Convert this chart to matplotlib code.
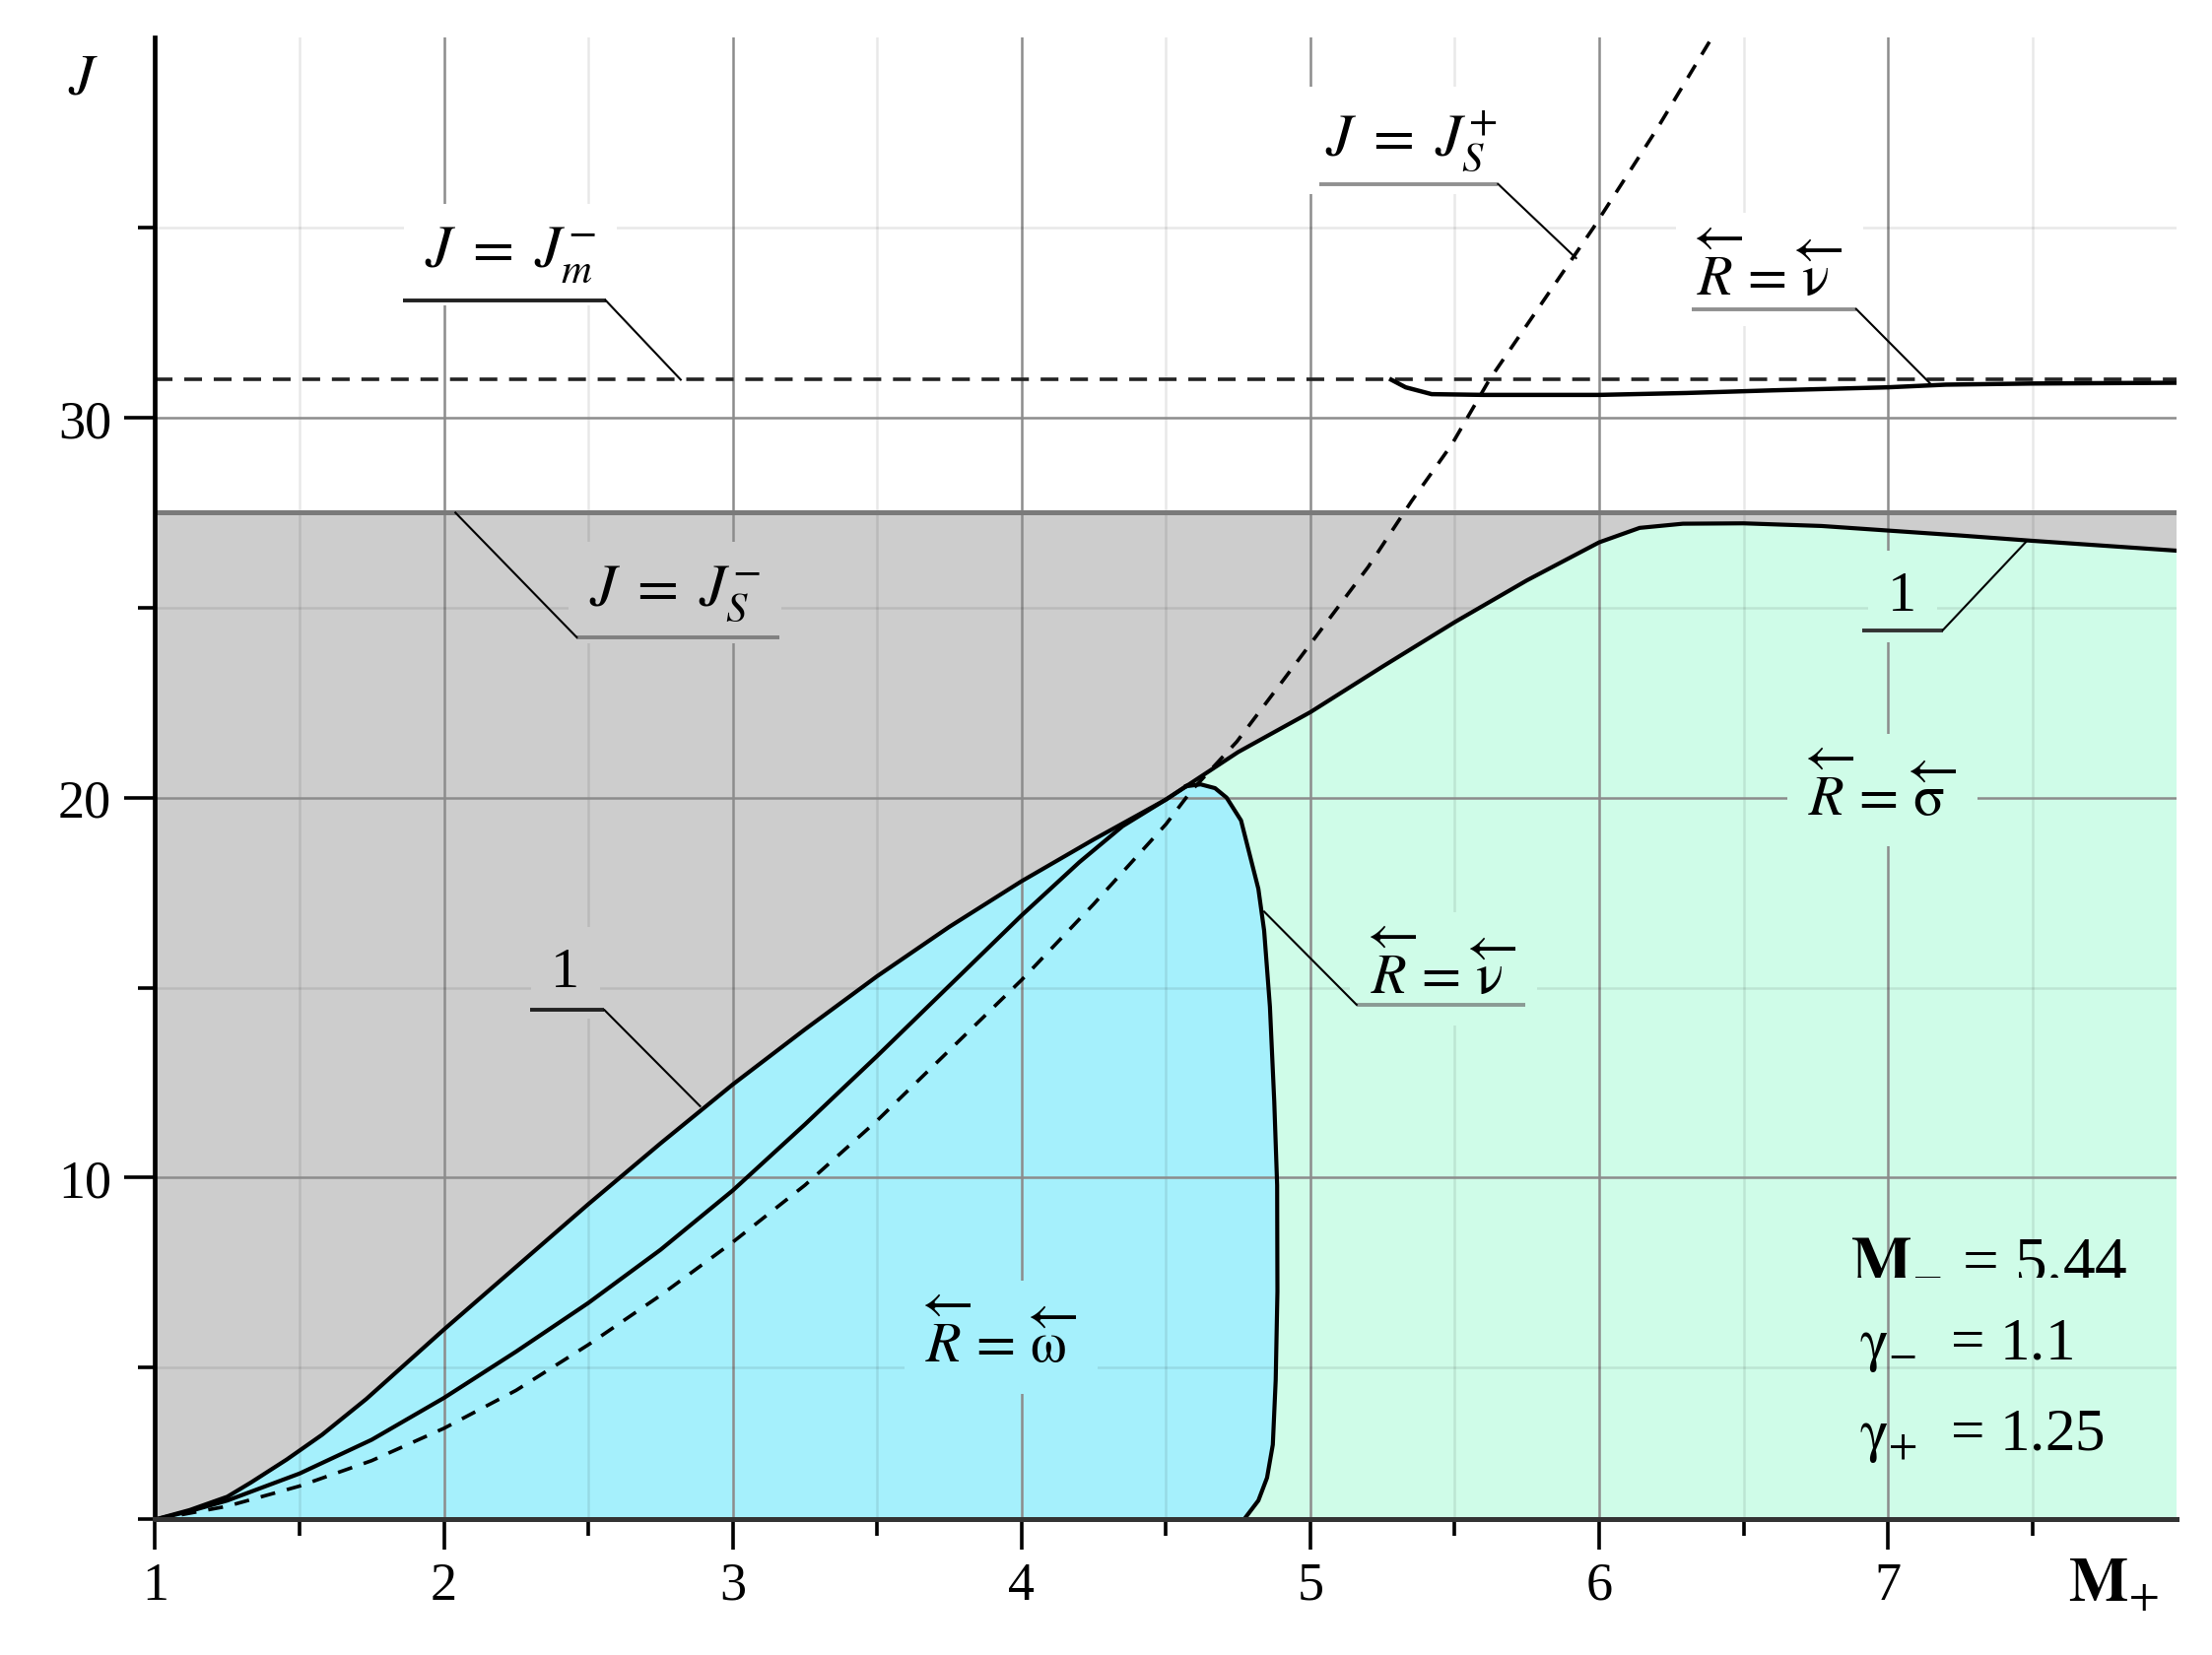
import matplotlib
matplotlib.use('Agg')
import matplotlib.pyplot as plt
from matplotlib.ticker import FixedLocator, NullFormatter

plt.rcParams['font.family'] = ['Liberation Serif', 'DejaVu Serif']
plt.rcParams['mathtext.fontset'] = 'stix'

# кривая 1 (граница серой области), до тройной точки и после неё
m_line1_left = [1.0, 1.12, 1.25, 1.333, 1.456, 1.578, 1.731, 2.0, 2.25, 2.5, 2.75, 3.0, 3.25, 3.5, 3.75, 4.0, 4.25, 4.5, 4.57]
j_line1_left = [1.0, 1.25, 1.6, 1.98, 2.58, 3.23, 4.17, 6.0, 7.65, 9.3, 10.9, 12.45, 13.9, 15.3, 16.6, 17.8, 18.9, 19.95, 20.3]
m_line1_right = [4.57, 4.75, 5.0, 5.25, 5.5, 5.75, 6.0, 6.14, 6.29, 6.5, 6.77, 7.0, 7.25, 7.5, 7.75, 8.0]
j_line1_right = [20.3, 21.2, 22.25, 23.45, 24.62, 25.72, 26.72, 27.1, 27.21, 27.22, 27.15, 27.03, 26.9, 26.76, 26.63, 26.5]

# сплошная кривая внутри голубой области
m_mid = [1.0, 1.12, 1.25, 1.5, 1.75, 2.0, 2.25, 2.5, 2.75, 3.0, 3.25, 3.5, 3.75, 4.0, 4.2, 4.35, 4.5, 4.57]
j_mid = [1.0, 1.22, 1.5, 2.21, 3.1, 4.2, 5.42, 6.7, 8.1, 9.66, 11.4, 13.2, 15.05, 16.9, 18.3, 19.25, 19.95, 20.3]

# J = J_S^+ (штриховая)
m_js_plus = [1.0, 1.25, 1.5, 1.75, 2.0, 2.25, 2.5, 2.75, 3.0, 3.25, 3.5, 3.75, 4.0, 4.25, 4.5, 4.59,
             4.745, 4.9, 5.05, 5.2, 5.35, 5.49, 5.62, 5.8, 5.98, 6.2, 6.39]
j_js_plus = [1.0, 1.35, 1.88, 2.55, 3.4, 4.4, 5.6, 6.9, 8.3, 9.8, 11.5, 13.35, 15.2, 17.2, 19.3, 20.2,
             21.47, 23.03, 24.55, 26.07, 27.8, 29.3, 31.0, 33.0, 35.0, 37.6, 40.0]

# R = nu : граница голубой области
m_nu_low = [4.57, 4.62, 4.67, 4.71, 4.76, 4.79, 4.82, 4.84, 4.86, 4.875, 4.885, 4.886, 4.88, 4.87, 4.85, 4.82, 4.77]
j_nu_low = [20.3, 20.35, 20.25, 20.0, 19.4, 18.5, 17.6, 16.5, 14.5, 12.0, 9.8, 7.0, 4.67, 2.97, 2.1, 1.5, 1.0]

# R = nu : верхняя кривая около J_m^-
m_nu_up = [5.28, 5.33, 5.42, 5.6, 6.0, 6.3, 6.6, 7.0, 7.2, 7.5, 8.0]
j_nu_up = [31.0, 30.8, 30.62, 30.6, 30.6, 30.65, 30.72, 30.8, 30.87, 30.9, 30.92]

J_S_MINUS = 27.5
J_M_MINUS = 31.0

x_major = [1, 2, 3, 4, 5, 6, 7]
x_minor = [1.5, 2.5, 3.5, 4.5, 5.5, 6.5, 7.5]
y_major = [10, 20, 30]
y_minor = [1, 5, 15, 25, 35]

params = [r'$\mathbf{M}_{-}$ = 5.44', r'$\mathrm{\gamma}_{-}$  = 1.1', r'$\mathrm{\gamma}_{+}$  = 1.25']

GREY = '#cdcdcd'
CYAN = '#a5f0fc'
MINT = '#cffce8'

fig = plt.figure(figsize=(22.45, 16.81), dpi=100)
ax = fig.add_axes([0.0701, 0.0818, 0.9140, 0.8948])
ax.set_xlim(1, 8)
ax.set_ylim(1, 40)

# области
ax.fill_between([1, 8], 1, J_S_MINUS, color=GREY, lw=0, zorder=0.2)
cyan_x = m_line1_left + m_nu_low + [1.0]
cyan_y = j_line1_left + j_nu_low + [1.0]
ax.fill(cyan_x, cyan_y, color=CYAN, lw=0, zorder=0.3)
mint_x = m_line1_right + [8.0] + m_nu_low[::-1]
mint_y = j_line1_right + [1.0] + j_nu_low[::-1]
ax.fill(mint_x, mint_y, color=MINT, lw=0, zorder=0.3)

# сетка
ax.set_axisbelow(True)
ax.xaxis.set_major_locator(FixedLocator(x_major))
ax.xaxis.set_minor_locator(FixedLocator(x_minor))
ax.yaxis.set_major_locator(FixedLocator(y_major))
ax.yaxis.set_minor_locator(FixedLocator(y_minor))
ax.yaxis.set_minor_formatter(NullFormatter())
ax.grid(which='major', color='#8c8c8c', lw=1.8)
ax.grid(which='minor', color='black', alpha=0.09, lw=1.8)

for s in ['top', 'right']:
    ax.spines[s].set_visible(False)
ax.spines['left'].set_linewidth(3.4)
ax.spines['left'].set_color('black')
ax.spines['bottom'].set_linewidth(3.6)
ax.spines['bottom'].set_color('#333333')
ax.spines['left'].set_zorder(6)
ax.spines['bottom'].set_zorder(6)

ax.tick_params(which='major', length=22, width=2.6, color='black', labelsize=39, pad=8)
ax.tick_params(which='minor', length=12, width=2.6, color='black')
ax.tick_params(axis='y', which='major', pad=10)

# линии
ax.axhline(J_S_MINUS, color='#7a7a7a', lw=3.6, zorder=2)
ax.axhline(J_M_MINUS, color='#222222', lw=2.6, ls=(0, (5, 3.3)), zorder=4)
ax.plot(m_line1_left, j_line1_left, color='black', lw=3.0, zorder=4)
ax.plot(m_line1_right, j_line1_right, color='black', lw=3.0, zorder=4)
ax.plot(m_mid, j_mid, color='black', lw=3.0, zorder=4)
ax.plot(m_js_plus, j_js_plus, color='black', lw=2.6, ls=(0, (4.2, 3.4)), zorder=4, clip_on=False)
ax.plot(m_nu_low, j_nu_low, color='black', lw=3.0, zorder=4)
ax.plot(m_nu_up, j_nu_up, color='black', lw=3.2, zorder=4)


def label(x, y, s, bg, size=42):
    ax.text(x, y, s, fontsize=size, ha='center', va='center', zorder=3,
            bbox=dict(boxstyle='square,pad=0.35', fc=bg, ec='none'))


def leader(xs, ys, color='#222222'):
    ax.plot(xs[:2], ys[:2], color=color, lw=2.8, zorder=5, solid_capstyle='butt')
    ax.plot(xs[1:], ys[1:], color='black', lw=1.5, zorder=5)


arrow_nu = r'$\overleftarrow{R}\,=\,\overleftarrow{\mathrm{ν}}$'

label(2.23, 34.3, r'$J\;=\;J_{m}^{-}$', 'white', 44)
leader([1.86, 2.56, 2.82], [33.09, 33.09, 31.0])

label(5.35, 37.3, r'$J\;=\;J_{S}^{+}$', 'white', 44)
leader([5.03, 5.65, 5.92], [36.15, 36.15, 34.2], color='#909090')

label(6.59, 33.9, arrow_nu, 'white')
leader([6.32, 6.89, 7.15], [32.86, 32.86, 30.87], color='#909090')

label(2.80, 25.4, r'$J\;=\;J_{S}^{-}$', GREY, 44)
leader([3.16, 2.46, 2.04], [24.22, 24.22, 27.5], color='#808080')

label(2.42, 15.4, '1', GREY)
leader([2.30, 2.556, 2.887], [14.41, 14.41, 11.88])

label(7.05, 25.3, '1', MINT)
leader([6.91, 7.19, 7.48], [24.41, 24.41, 26.75], color='#333333')

label(5.46, 15.5, arrow_nu, MINT)
leader([5.745, 5.16, 4.84], [14.55, 14.55, 17.0], color='#8a9a94')

label(6.98, 20.2, r'$\overleftarrow{R}\,=\,\overleftarrow{\mathrm{\sigma}}$', MINT)
label(3.93, 5.8, r'$\overleftarrow{R}\,=\,\overleftarrow{\mathrm{\omega}}$', CYAN)

ax.text(6.87, 7.9, params[0], fontsize=47, ha='left', va='center', zorder=3)
ax.text(6.90, 5.6, params[1], fontsize=44, ha='left', va='center', zorder=3)
ax.text(6.90, 3.2, params[2], fontsize=44, ha='left', va='center', zorder=3)

ax.text(0.75, 38.9, r'$J$', fontsize=42, ha='center', va='center', clip_on=False)
ax.text(7.78, -0.75, r'$\mathbf{M}_{+}$', fontsize=46, ha='center', va='center', clip_on=False)

fig.savefig('out.png', dpi=100)
